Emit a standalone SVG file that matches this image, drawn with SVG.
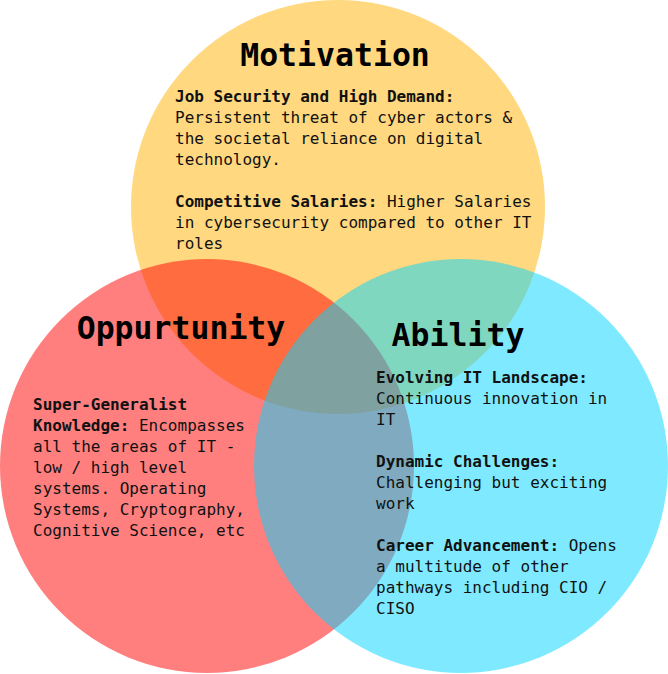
<svg xmlns="http://www.w3.org/2000/svg" width="668" height="674" viewBox="0 0 668 674">
  <style>
    .set { opacity: 0.5; }
    .title { font-family: "DejaVu Sans Mono", "Liberation Mono", monospace; font-size: 31.5px; font-weight: bold; fill: #000; text-anchor: middle; }
    .body { font-family: "DejaVu Sans Mono", "Liberation Mono", monospace; font-size: 16px; fill: #111; }
    .b { font-weight: bold; }
  </style>
  <rect width="668" height="674" fill="#ffffff"/>

  <!-- Venn sets: translucent circles, overlaps mix by stacking -->
  <g id="motivation">
    <circle class="set" cx="338" cy="207" r="207" fill="#FFB200"/>
  </g>
  <g id="opportunity">
    <circle class="set" cx="207" cy="466" r="207" fill="#FF0000"/>
  </g>
  <g id="ability">
    <circle class="set" cx="461" cy="466" r="207" fill="#00D6FF"/>
  </g>

  <!-- Labels -->
  <g id="motivation-text">
    <text class="title" x="335" y="66">Motivation</text>
    <text class="body" x="175" y="102"><tspan class="b">Job Security and High Demand:</tspan></text>
    <text class="body" x="175" y="123">Persistent threat of cyber actors &amp;</text>
    <text class="body" x="175" y="144">the societal reliance on digital</text>
    <text class="body" x="175" y="165">technology.</text>
    <text class="body" x="175" y="207"><tspan class="b">Competitive Salaries:</tspan> Higher Salaries</text>
    <text class="body" x="175" y="228">in cybersecurity compared to other IT</text>
    <text class="body" x="175" y="249">roles</text>
  </g>

  <g id="opportunity-text">
    <text class="title" x="181" y="339">Oppurtunity</text>
    <text class="body" x="33" y="410"><tspan class="b">Super-Generalist</tspan></text>
    <text class="body" x="33" y="431"><tspan class="b">Knowledge:</tspan> Encompasses</text>
    <text class="body" x="33" y="452">all the areas of IT -</text>
    <text class="body" x="33" y="473">low / high level</text>
    <text class="body" x="33" y="494">systems. Operating</text>
    <text class="body" x="33" y="515">Systems, Cryptography,</text>
    <text class="body" x="33" y="536">Cognitive Science, etc</text>
  </g>

  <g id="ability-text">
    <text class="title" x="458" y="346">Ability</text>
    <text class="body" x="376" y="383"><tspan class="b">Evolving IT Landscape:</tspan></text>
    <text class="body" x="376" y="404">Continuous innovation in</text>
    <text class="body" x="376" y="425">IT</text>
    <text class="body" x="376" y="467"><tspan class="b">Dynamic Challenges:</tspan></text>
    <text class="body" x="376" y="488">Challenging but exciting</text>
    <text class="body" x="376" y="509">work</text>
    <text class="body" x="376" y="551"><tspan class="b">Career Advancement:</tspan> Opens</text>
    <text class="body" x="376" y="572">a multitude of other</text>
    <text class="body" x="376" y="593">pathways including CIO /</text>
    <text class="body" x="376" y="614">CISO</text>
  </g>
</svg>
